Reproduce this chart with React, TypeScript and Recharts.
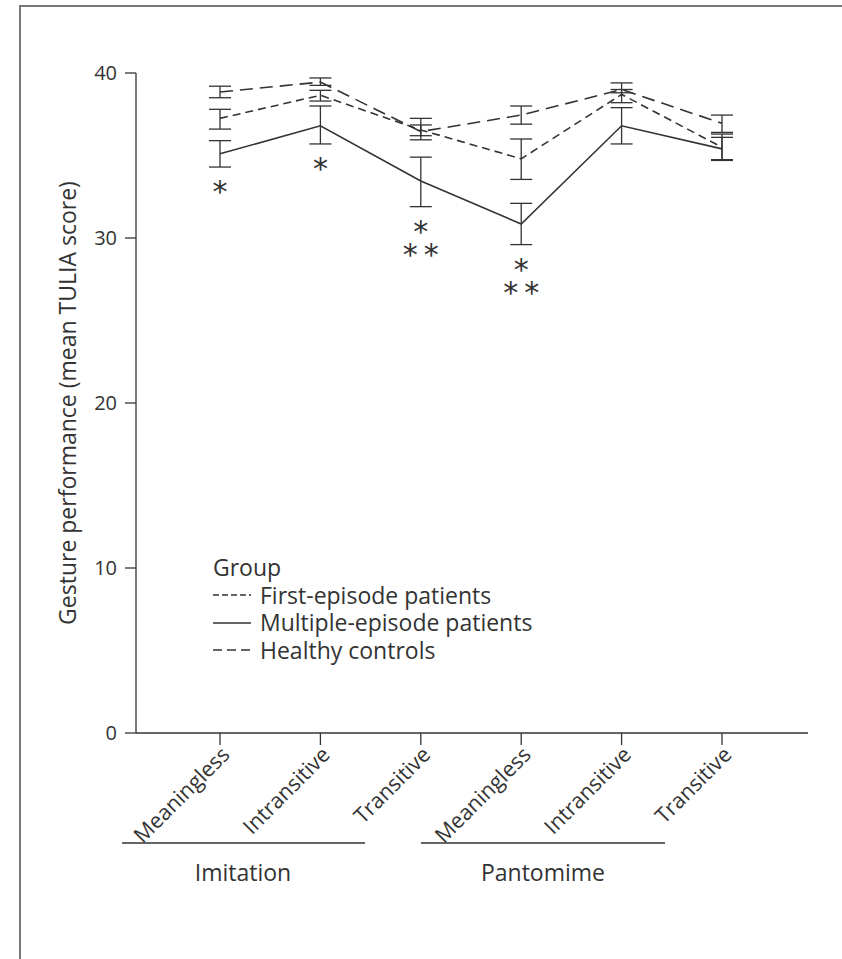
import React from "react";
import { LineChart, Line, XAxis, YAxis, ErrorBar, Legend, Customized } from "recharts";

const categories = ["Meaningless", "Intransitive", "Transitive", "Meaningless", "Intransitive", "Transitive"];
const groups = ["Imitation", "Imitation", "Imitation", "Pantomime", "Pantomime", "Pantomime"];

const firstEpisode = [37.25, 38.65, 36.55, 34.8, 38.7, 35.5];
const firstEpisodeLow = [36.6, 38.3, 36.2, 33.55, 38.2, 34.75];
const firstEpisodeHigh = [37.8, 38.95, 36.85, 36.0, 39.0, 36.3];

const multipleEpisode = [35.1, 36.8, 33.45, 30.85, 36.8, 35.4];
const multipleEpisodeLow = [34.3, 35.7, 31.9, 29.6, 35.7, 34.7];
const multipleEpisodeHigh = [35.9, 38.0, 34.9, 32.1, 37.9, 36.1];

const healthy = [38.85, 39.45, 36.45, 37.45, 39.0, 36.95];
const healthyLow = [38.5, 39.25, 35.95, 36.9, 38.8, 36.4];
const healthyHigh = [39.2, 39.7, 37.25, 38.0, 39.4, 37.45];

const starRow1 = ["*", "*", "*", "*", "", ""];
const starRow2 = ["", "", "**", "**", "", ""];

const yTicks = [0, 10, 20, 30, 40];

const INK = "#333";
const FONT = "'Open Sans', 'Noto Sans', sans-serif";
const FS = 23;
const XFS = 21.5;
const TICK_FS = 20;

const data = categories.map((c, i) => ({
  key: `${groups[i]}-${c}`,
  fe: firstEpisode[i],
  feErr: [firstEpisode[i] - firstEpisodeLow[i], firstEpisodeHigh[i] - firstEpisode[i]],
  mep: multipleEpisode[i],
  mepErr: [multipleEpisode[i] - multipleEpisodeLow[i], multipleEpisodeHigh[i] - multipleEpisode[i]],
  mepLow: multipleEpisodeLow[i],
  hc: healthy[i],
  hcErr: [healthy[i] - healthyLow[i], healthyHigh[i] - healthy[i]],
}));

const legendItems = [
  { name: "First-episode patients", dash: "6 3" },
  { name: "Multiple-episode patients", dash: undefined },
  { name: "Healthy controls", dash: "9 5" },
];

const XTick = (props: any) => {
  const { x, y, payload } = props;
  const label = categories[payload.index] ?? "";
  const ax = x + 11;
  const ay = y + 9;
  return (
    <text
      x={ax}
      y={ay}
      transform={`rotate(-45, ${ax}, ${ay})`}
      textAnchor="end"
      fontSize={XFS}
      fontFamily={FONT}
      fill={INK}
    >
      {label}
    </text>
  );
};

const StarLabel = (props: any) => {
  const { x, y, index } = props;
  const r1 = starRow1[index];
  const r2 = starRow2[index];
  const c1 = y + 18;
  const c2 = y + 41;
  const star = (cx: number, cy: number, k: string) => (
    <text key={k} x={cx} y={cy + 17} textAnchor="middle" fontSize={30} fontFamily="'DejaVu Sans', sans-serif" fill={INK}>
      *
    </text>
  );
  return (
    <g>
      {r1 ? star(x, c1, "a") : null}
      {r2 ? [star(x - 10.5, c2, "b"), star(x + 10.5, c2, "c")] : null}
    </g>
  );
};

const LegendContent = () => (
  <div style={{ fontFamily: FONT, fontSize: FS, color: INK, lineHeight: "27.5px" }}>
    <div>Group</div>
    {legendItems.map((it) => (
      <div key={it.name} style={{ display: "flex", alignItems: "center" }}>
        <svg width={47} height={10} style={{ display: "block" }}>
          <line x1={0} y1={5} x2={38} y2={5} stroke={INK} strokeWidth={1.3} strokeDasharray={it.dash} />
        </svg>
        <span>{it.name}</span>
      </div>
    ))}
  </div>
);

const GroupBrackets = () => (
  <g>
    <line x1={122} y1={843} x2={365} y2={843} stroke={INK} strokeWidth={1.3} />
    <line x1={421} y1={843} x2={665} y2={843} stroke={INK} strokeWidth={1.3} />
    <text x={243} y={872} textAnchor="middle" dominantBaseline="central" fontSize={FS} fontFamily={FONT} fill={INK}>
      Imitation
    </text>
    <text x={543} y={872} textAnchor="middle" dominantBaseline="central" fontSize={FS} fontFamily={FONT} fill={INK}>
      Pantomime
    </text>
  </g>
);

const YLabel = () => (
  <text
    x={67}
    y={403}
    transform="rotate(-90, 67, 403)"
    textAnchor="middle"
    dominantBaseline="central"
    fontSize={FS}
    fontFamily={FONT}
    fill={INK}
  >
    Gesture performance (mean TULIA score)
  </text>
);

export default function App() {
  return (
    <div style={{ position: "absolute", left: 0, top: 0, width: 842, height: 959, background: "#fff" }}>
      <div
        style={{
          position: "absolute",
          left: 19,
          top: 5,
          right: 0,
          bottom: 0,
          borderTop: "2px solid #777",
          borderLeft: "2px solid #777",
        }}
      />
      <LineChart
        width={842}
        height={959}
        data={data}
        margin={{ top: 73, right: 34, bottom: 196, left: 0 }}
        style={{ position: "absolute", left: 0, top: 0 }}
      >
        <XAxis
          dataKey="key"
          scale="point"
          padding={{ left: 84, right: 86 }}
          interval={0}
          height={30}
          tickSize={12}
          tickMargin={2}
          tick={<XTick />}
          axisLine={{ stroke: INK, strokeWidth: 1.3 }}
          tickLine={{ stroke: INK, strokeWidth: 1.3 }}
        />
        <YAxis
          domain={[0, 40]}
          ticks={yTicks}
          width={136}
          tickSize={11}
          tickMargin={8}
          tick={{ fontSize: TICK_FS, fontFamily: FONT, fill: INK }}
          axisLine={{ stroke: INK, strokeWidth: 1.3 }}
          tickLine={{ stroke: INK, strokeWidth: 1.3 }}
          label={<YLabel />}
        />
        <Line
          dataKey="hc"
          name="Healthy controls"
          stroke={INK}
          strokeWidth={1.6}
          strokeDasharray="13 7"
          dot={false}
          activeDot={false}
          isAnimationActive={false}
        >
          <ErrorBar dataKey="hcErr" width={11} stroke={INK} strokeWidth={1.3} direction="y" />
        </Line>
        <Line
          dataKey="fe"
          name="First-episode patients"
          stroke={INK}
          strokeWidth={1.6}
          strokeDasharray="8 5"
          dot={false}
          activeDot={false}
          isAnimationActive={false}
        >
          <ErrorBar dataKey="feErr" width={11} stroke={INK} strokeWidth={1.3} direction="y" />
        </Line>
        <Line
          dataKey="mep"
          name="Multiple-episode patients"
          stroke={INK}
          strokeWidth={1.6}
          dot={false}
          activeDot={false}
          isAnimationActive={false}
        >
          <ErrorBar dataKey="mepErr" width={11} stroke={INK} strokeWidth={1.3} direction="y" />
        </Line>
        <Line
          dataKey="mepLow"
          stroke="none"
          dot={false}
          activeDot={false}
          legendType="none"
          isAnimationActive={false}
          label={<StarLabel />}
        />
        <Legend
          layout="vertical"
          align="center"
          verticalAlign="middle"
          content={<LegendContent />}
          wrapperStyle={{ left: 213, top: 554, width: 420 }}
        />
        <Customized component={<GroupBrackets />} />
      </LineChart>
    </div>
  );
}
